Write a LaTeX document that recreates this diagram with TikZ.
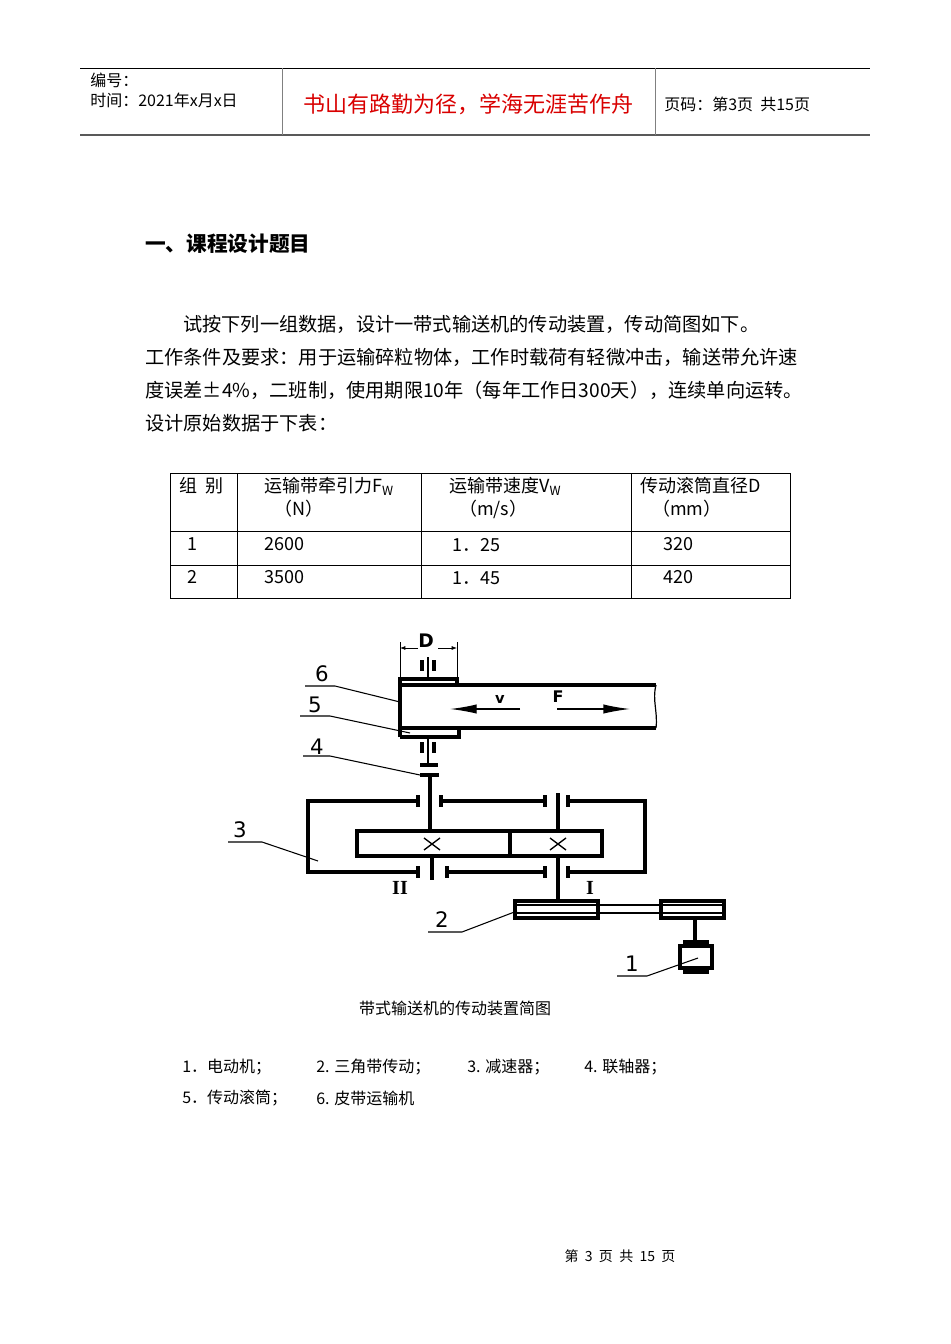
\documentclass[tikz,border=0pt]{standalone}
\usepackage{fontspec}
\setmainfont{Liberation Serif}
\newfontfamily\cjk{Noto Sans CJK SC}
\newfontfamily\dv{DejaVu Sans}
\usetikzlibrary{arrows.meta}
\tikzset{
 t/.style={inner sep=0,anchor=west,font=\cjk\fontsize{14.4}{16}\selectfont},
 hd/.style={inner sep=0,anchor=west,font=\cjk\fontsize{12}{14}\selectfont},
 tb/.style={inner sep=0,anchor=west,font=\cjk\fontsize{13.5}{15}\selectfont},
 sm/.style={inner sep=0,anchor=west,font=\cjk\fontsize{12}{14}\selectfont},
 num/.style={inner sep=0,font=\dv\fontsize{16}{16}\selectfont},
 thick3/.style={line width=2.4pt},
 thin1/.style={line width=0.9pt},
}
\begin{document}
\begin{tikzpicture}[x=0.75pt,y=-0.75pt]
\useasboundingbox (0,0) rectangle (950,1344);
\fill[white] (0,0) rectangle (950,1344);
% header
\draw[line width=0.6pt] (80,68) -- (870,68);
\draw[line width=1.4pt,gray!70!black] (80,135) -- (870,135);
\draw[line width=0.6pt,gray] (282,68) -- (282,135) (655,68) -- (655,135);
\node[hd] (h1) at (90,80) {编号：};
\node[hd] (h2) at (90,100) {时间：2021年x月x日};
\node[inner sep=0,font=\cjk\fontsize{16.5}{18}\selectfont,text=red!85!black] (h3) at (468,104) {书山有路勤为径，学海无涯苦作舟};
\node[hd] (h4) at (664,104) {页码：第3页\ \ 共15页};
% title
\node[inner sep=0,anchor=west,font=\cjk\bfseries\fontsize{15.5}{17}\selectfont] (ti) at (145,244) {一、课程设计题目};
\node[t] (p1) at (183,324) {试按下列一组数据，设计一带式输送机的传动装置，传动简图如下。};
\node[t] (p2) at (145,357) {工作条件及要求：用于运输碎粒物体，工作时载荷有轻微冲击，输送带允许速};
\node[t] (p3) at (145,390) {度误差±4\%，二班制，使用期限10年（每年工作日300天），连续单向运转。};
\node[t] (p4) at (145,423) {设计原始数据于下表：};
% table
\draw[line width=0.6pt] (170,473) rectangle (790,598);
\draw[line width=0.6pt] (170,531) -- (790,531) (170,565) -- (790,565)
 (237,473) -- (237,598) (421,473) -- (421,598) (631,473) -- (631,598);
\node[tb] (c1) at (179,486) {组\ \ 别};
\node[tb] (c2) at (264,486) {运输带牵引力F\textsubscript{W}};
\node[tb] (c2b) at (274,509) {（N）};
\node[tb] (c3) at (449,486) {运输带速度V\textsubscript{W}};
\node[tb] (c3b) at (459,509) {（m/s）};
\node[tb] (c4) at (640,486) {传动滚筒直径D};
\node[tb] (c4b) at (652,509) {（mm）};
\node[tb] (r1) at (187,544) {1};
\node[tb] (r2) at (264,544) {2600};
\node[tb] (r3) at (452,545) {1．25};
\node[tb] (r4) at (663,544) {320};
\node[tb] (s1) at (187,577) {2};
\node[tb] (s2) at (264,577) {3500};
\node[tb] (s3) at (452,578) {1．45};
\node[tb] (s4) at (663,577) {420};
% ---- diagram ----
\draw[thick3] (400,737) -- (400,679) -- (457,679) -- (457,685);
\draw[thick3] (400,685) -- (656,685);
\draw[thick3] (400,728) -- (656,728);
\draw[thick3] (400,737) -- (459,737) -- (459,728);
\draw[thin1] (656,685) .. controls (652,700) and (658,712) .. (656,728);
% D dimension
\draw[line width=0.6pt] (400,679) -- (400,642) (457,679) -- (457,642);
\draw[-{Latex[length=4pt]},line width=0.6pt] (418,648) -- (400,648);
\draw[-{Latex[length=4pt]},line width=0.6pt] (438,648) -- (457,648);
\node[num,font=\dv\bfseries\fontsize{14}{14}\selectfont] (D) at (426,641) {D};
% upper bearing
\draw[line width=1.5pt] (428,657) -- (428,679);
\draw[line width=2.6pt] (422,660) -- (422,671) (434,660) -- (434,671);
% lower bearing / shaft / coupling
\draw[line width=1.5pt] (428,737) -- (428,765);
\draw[line width=2.6pt] (422,742) -- (422,753) (434,742) -- (434,753);
\draw[thick3] (420,765) -- (438,765);
\draw[thick3] (420,775) -- (439,775);
\draw[thick3] (430,775) -- (430,831);
% housing
\draw[thick3] (418,801) -- (308,801) -- (308,872) -- (418,872);
\draw[thick3] (441,801) -- (545,801);
\draw[thick3] (568,801) -- (645,801) -- (645,872) -- (568,872);
\draw[thick3] (447,872) -- (545,872);
\draw[thick3] (418,795) -- (418,807) (441,795) -- (441,807) (545,795) -- (545,807) (568,795) -- (568,807);
\draw[thick3] (418,866) -- (418,878) (447,866) -- (447,878) (545,866) -- (545,878) (568,866) -- (568,878);
% gears
\draw[thick3] (357,831) rectangle (602,856);
\draw[thick3] (510,831) -- (510,856);
\draw[line width=1pt] (424,838) -- (440,850) (424,850) -- (440,838);
\draw[line width=1pt] (550,838) -- (566,850) (550,850) -- (566,838);
\draw[thick3] (432,856) -- (432,880);
\draw[thick3] (558,793) -- (558,831) (558,856) -- (558,901);
\node[inner sep=0,font=\fontsize{15}{15}\selectfont\bfseries] (II) at (400,888) {II};
\node[inner sep=0,font=\fontsize{15}{15}\selectfont\bfseries] (I) at (590,888) {I};
% pulleys
\draw[thick3] (515,901) rectangle (598,918);
\draw[line width=1pt] (517,905) -- (596,905) (517,913) -- (596,913);
\draw[thick3] (661,901) rectangle (724,918);
\draw[line width=1pt] (663,905) -- (722,905) (663,913) -- (722,913);
\draw[line width=1.2pt] (598,905) -- (661,905) (598,913) -- (661,913);
% motor
\draw[thick3] (695,918) -- (695,943);
\draw[thick3] (680,946) rectangle (712,968);
\draw[thick3] (685,942) rectangle (707,946) (685,968) rectangle (707,972);
% v and F arrows
\node[num,font=\dv\bfseries\fontsize{11}{11}\selectfont] (v) at (500,699) {v};
\draw[line width=1pt,-{Latex[length=20pt,width=7pt]}] (520,709) -- (450,709);
\node[num,font=\dv\bfseries\fontsize{12}{12}\selectfont] (F) at (558,697) {F};
\draw[line width=1pt,-{Latex[length=20pt,width=7pt]}] (557,709) -- (630,709);
% labels
\node[num] (n6) at (322,674) {6};
\draw[line width=0.8pt] (305,686) -- (335,686) -- (400,702);
\node[num] (n5) at (315,705) {5};
\draw[line width=0.8pt] (300,716) -- (330,716) -- (410,733);
\node[num] (n4) at (317,747) {4};
\draw[line width=0.8pt] (303,756) -- (330,756) -- (420,775);
\node[num] (n3) at (240,830) {3};
\draw[line width=0.8pt] (228,842) -- (262,842) -- (318,861);
\node[num] (n2) at (442,920) {2};
\draw[line width=0.8pt] (428,932) -- (462,932) -- (517,911);
\node[num] (n1) at (632,964) {1};
\draw[line width=0.8pt] (617,976) -- (647,976) -- (698,958);
% caption and legend
\node[inner sep=0,font=\cjk\fontsize{12}{14}\selectfont] (cap) at (455,1008) {带式输送机的传动装置简图};
\node[sm] (l1) at (182,1067) {1．电动机；};
\node[sm] (l2) at (316,1067) {2. 三角带传动；};
\node[sm] (l3) at (467,1067) {3. 减速器；};
\node[sm] (l4) at (584,1067) {4. 联轴器；};
\node[sm] (l5) at (182,1098) {5．传动滚筒；};
\node[sm] (l6) at (316,1098) {6. 皮带运输机};
\node[inner sep=0,font=\cjk\fontsize{10.5}{12}\selectfont] (ft) at (620,1256) {第\ \ 3\ \ 页\ \ 共\ \ 15\ \ 页};
\end{tikzpicture}
\end{document}
